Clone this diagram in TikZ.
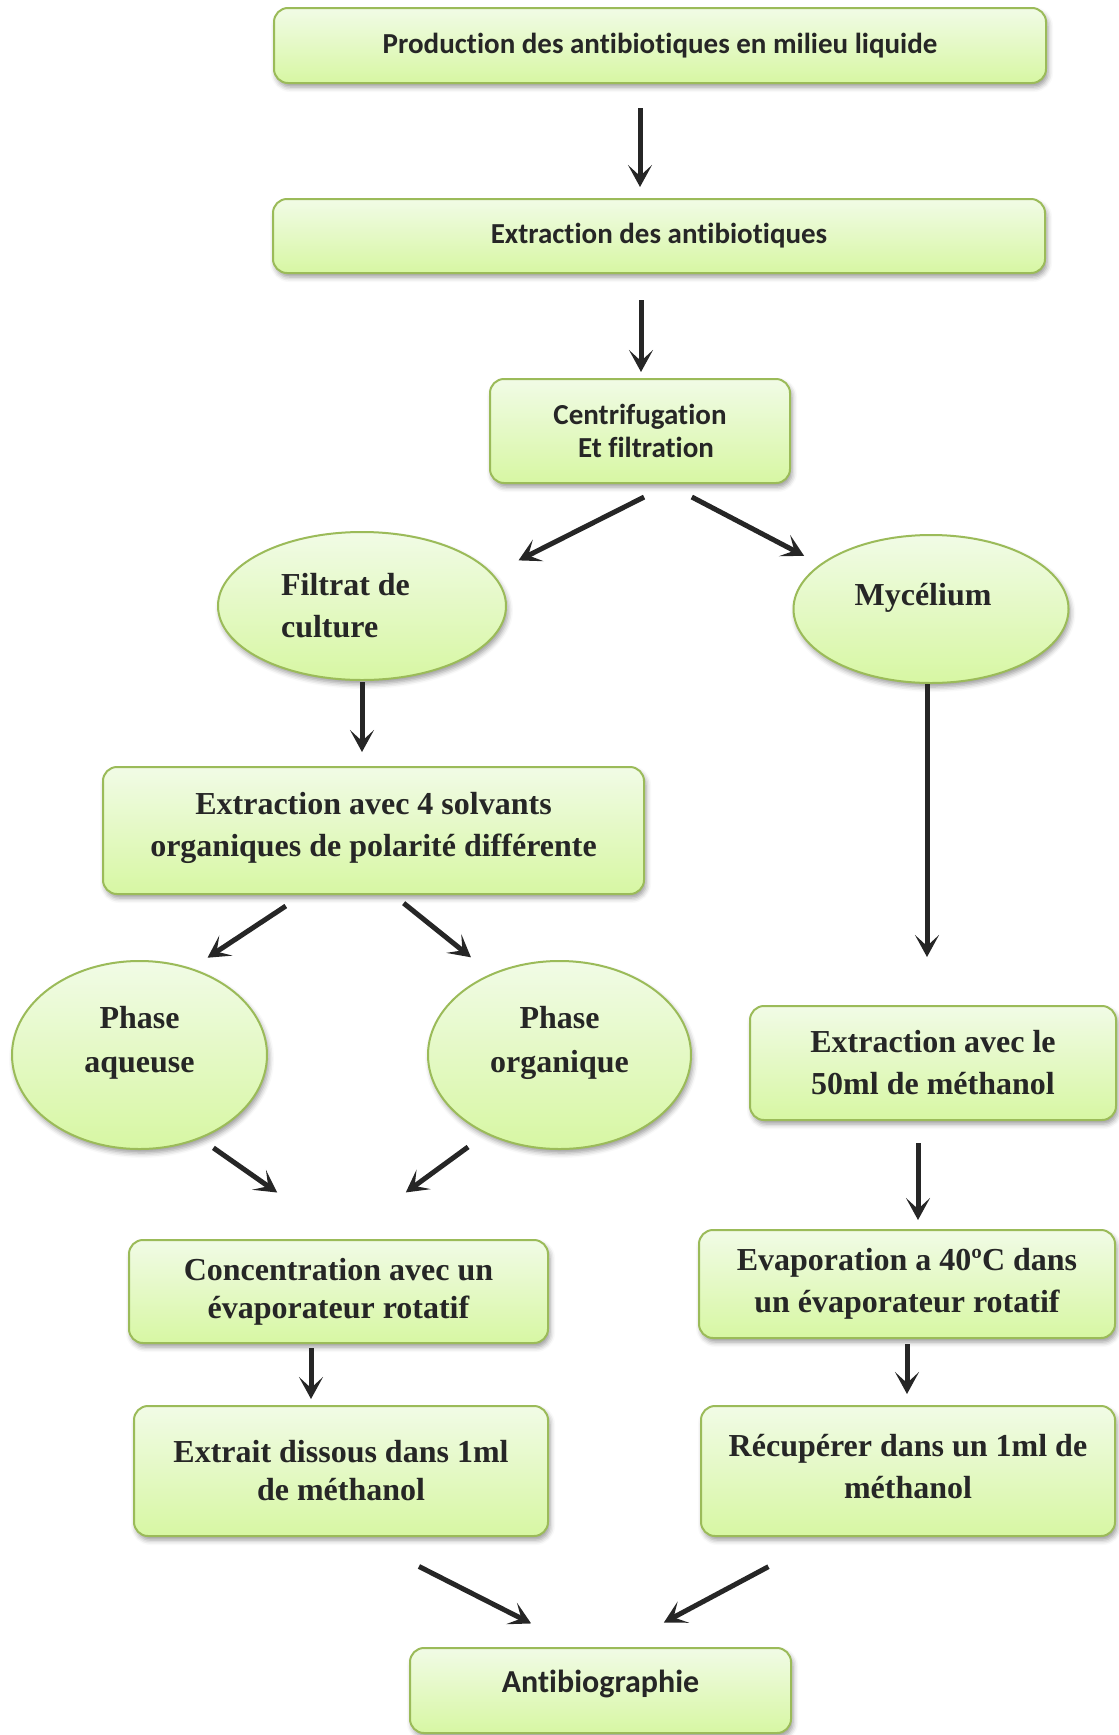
\documentclass[tikz,border=0pt]{standalone}
\usepackage{fontspec}
\setmainfont{Liberation Serif}
\newfontfamily\calib[Ligatures={NoCommon,NoRequired,NoContextual}]{Carlito}
\usetikzlibrary{arrows.meta,shapes.geometric,shadows.blur}
\definecolor{edge}{HTML}{9BBB59}
\definecolor{boxtop}{HTML}{F1FBE6}
\definecolor{boxbot}{HTML}{D7F7A3}
\definecolor{ink}{HTML}{262626}
\tikzset{
  soft/.style={blur shadow={shadow xshift=2pt, shadow yshift=-4pt, shadow blur radius=5pt, shadow opacity=40}},
  box/.style={rectangle, rounded corners=14pt, draw=edge, line width=2pt, top color=boxtop, bottom color=boxbot, soft, text=ink, align=center, inner sep=0pt},
  oval/.style={ellipse, draw=edge, line width=2pt, top color=boxtop, bottom color=boxbot, soft, text=ink, align=center, inner sep=0pt},
  cal/.style={font=\calib\bfseries\fontsize{29}{33}\selectfont},
  tnr/.style={font=\bfseries\fontsize{32}{42}\selectfont},
  arr/.style={draw=ink, line width=5pt, -{Stealth[length=22pt,width=24pt,inset=11pt]}},
}

\begin{document}
\begin{tikzpicture}[x=1pt, y=-1pt]
  \useasboundingbox (0,0) rectangle (1119,1735);
  % steps
  \node[box, cal, minimum width=772pt, minimum height=75pt] (prod) at (660,45.5) {Production des antibiotiques en milieu liquide};
  \node[box, cal, minimum width=772pt, minimum height=74pt] (extr) at (659,236) {Extraction des antibiotiques};
  \node[box, cal, minimum width=300pt, minimum height=104pt] (centri) at (640,431) {Centrifugation\\\hspace*{12pt}Et filtration};
  \node[oval, tnr, align=left, minimum width=288pt, minimum height=148pt] (filtrat) at (362,606) {Filtrat de\hspace*{33pt}\mbox{}\\culture};
  \node[oval, tnr, text depth=30pt, minimum width=275pt, minimum height=148pt] (myc) at (931,609) {Mycélium\hspace*{16pt}\mbox{}};
  \node[box, tnr, text depth=13pt, minimum width=541pt, minimum height=127pt] (solv) at (373.5,830.5) {Extraction avec 4 solvants\\organiques de polarité différente};
  \node[oval, tnr, text depth=32pt, minimum width=255pt, minimum height=188pt] (aq) at (139.5,1055) {Phase\\[2pt]aqueuse};
  \node[oval, tnr, text depth=32pt, minimum width=263pt, minimum height=188pt] (org) at (559.5,1055) {Phase\\[2pt]organique};
  \node[box, tnr, minimum width=366pt, minimum height=114pt] (meth) at (933,1063) {Extraction avec le\\50ml de méthanol};
  \node[box, tnr, minimum width=419pt, minimum height=103pt] (conc) at (338.5,1291.5) {Concentration avec un\\[-4pt]évaporateur rotatif};
  \node[box, tnr, minimum width=416pt, minimum height=108pt] (evap) at (907,1284) {Evaporation a 40ºC dans\\un évaporateur rotatif};
  \node[box, tnr, minimum width=414pt, minimum height=130pt] (extrait) at (341,1471) {Extrait dissous dans 1ml\\[-4pt]de méthanol};
  \node[box, tnr, text depth=10pt, minimum width=414pt, minimum height=130pt] (recup) at (908,1471) {Récupérer dans un 1ml de\\méthanol};
  \node[box, cal, font=\calib\bfseries\fontsize{32}{36}\selectfont, text depth=18pt, minimum width=381pt, minimum height=85pt] (antibio) at (600.5,1690.5) {Antibiographie};
  % arrows
  \draw[arr, shorten <=24pt, shorten >=11pt] ([xshift=-20pt]prod.south) -- ([xshift=-19pt]extr.north);
  \draw[arr, shorten <=26pt, shorten >=6pt] ([xshift=-18pt]extr.south) -- ([xshift=1pt]centri.north);
  \draw[arr, shorten <=29pt, shorten >=29pt] ([xshift=30pt]centri.south) -- (filtrat.14.5);
  \draw[arr, shorten <=28pt, shorten >=18pt] ([xshift=27pt]centri.south) -- (myc.158.4);
  \draw[arr, shorten <=1pt, shorten >=14pt] (filtrat.south) -- (filtrat.south |- solv.north);
  \draw[arr, shorten >=48pt] ([xshift=-4pt]myc.south) -- ([xshift=-4pt]myc.south |- meth.north);
  \draw[arr, shorten <=20pt, shorten >=19pt] ([xshift=-71pt]solv.south) -- (aq.59.7);
  \draw[arr, shorten <=13pt, shorten >=26pt] ([xshift=20pt]solv.south) -- (org.130.3);
  \draw[arr, shorten <=16pt, shorten >=81pt] (aq.-54.3) -- ([xshift=5pt]conc.north);
  \draw[arr, shorten <=22pt, shorten >=79pt] (org.-133.5) -- ([xshift=3.5pt]conc.north);
  \draw[arr, shorten <=22pt, shorten >=9pt] ([xshift=-15pt]meth.south) -- ([xshift=-15pt]meth.south |- evap.north);
  \draw[arr, shorten <=4pt, shorten >=6pt] ([xshift=-27.5pt]conc.south) -- ([xshift=-27.5pt]conc.south |- extrait.north);
  \draw[arr, shorten <=5pt, shorten >=11pt] (evap.south) -- (evap.south |- recup.north);
  \draw[arr, shorten <=65pt, shorten >=52pt] ([xshift=20pt]extrait.south) -- ([xshift=-23pt]antibio.north);
  \draw[arr, shorten <=63pt, shorten >=52pt] ([xshift=-84pt]recup.south) -- ([xshift=17.5pt]antibio.north);
\end{tikzpicture}
\end{document}
